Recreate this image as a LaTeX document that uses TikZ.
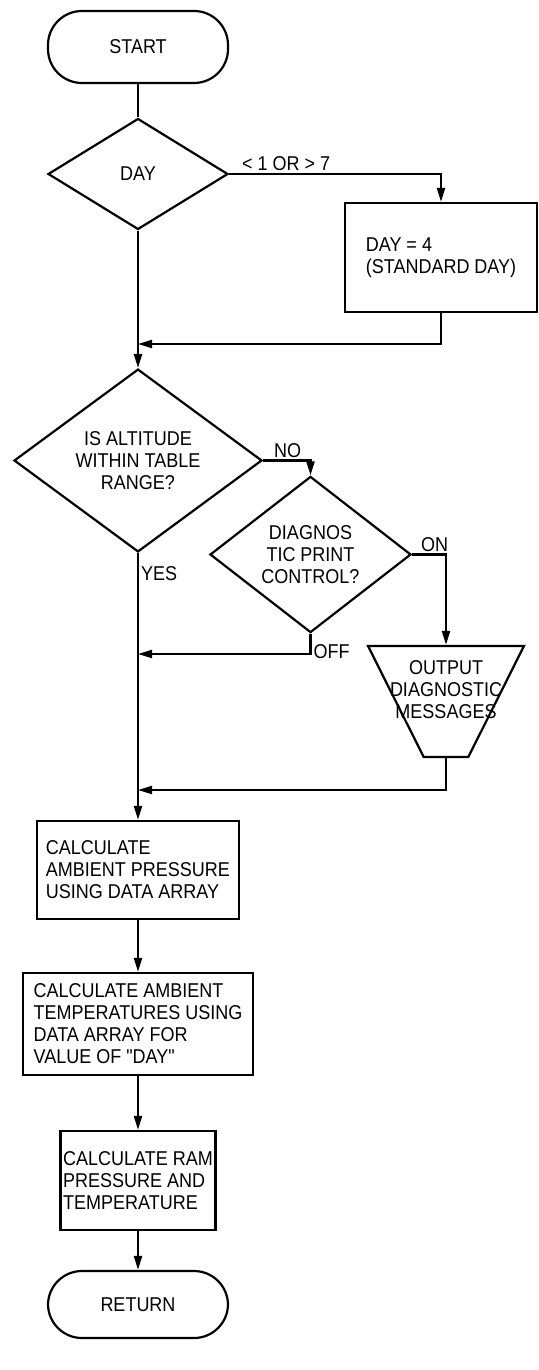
\documentclass[tikz,border=0pt]{standalone}
\usepackage{fontspec}
\setmainfont[FakeStretch=0.9, Ligatures=TeXOff]{Liberation Sans}
\usetikzlibrary{arrows.meta,shapes.geometric}

\begin{document}
\begin{tikzpicture}[
  x=0.5pt, y=-0.5pt,
  >={Triangle[length=7pt,width=4pt]},
  every node/.style={font=\fontsize{10}{11}\selectfont},
  term/.style={rectangle, draw, line width=1.1pt, rounded corners=17pt, minimum width=90pt, minimum height=36pt},
  dec/.style={diamond, draw, line width=1.1pt, inner sep=0pt, align=center},
  proc/.style={rectangle, draw, line width=1.1pt, align=left, inner sep=2pt},
  io/.style={trapezium, draw, line width=1.1pt, trapezium stretches, shape border rotate=180, trapezium left angle=71.6, trapezium right angle=71.6, inner sep=2pt},
  arr/.style={->, line width=1.1pt},
  lbl/.style={inner sep=1pt},
]
\useasboundingbox (0,0) rectangle (539,1370);

\node[term] (start) at (138,47) {START};
\node[dec, minimum width=90pt, minimum height=55.5pt] (day) at (138,174) {DAY};
\node[proc, minimum width=96pt, minimum height=54.5pt] (std) at (441,257.5) {DAY = 4\\(STANDARD DAY)};
\coordinate (j1) at (138,344);
\node[dec, minimum width=124pt, minimum height=70.5pt] (alt) at (138,460.5) {IS ALTITUDE\\WITHIN TABLE\\RANGE?};
\node[dec, minimum width=100.5pt, minimum height=70.5pt] (diag) at (310.5,554.5) {DIAGNOS\\TIC PRINT\\CONTROL?};
\node[io, minimum width=78pt, minimum height=55.5pt,
  label={[align=center, yshift=6pt]center:{OUTPUT\\DIAGNOSTIC\\MESSAGES}}] (msg) at (446,701.5) {\strut};
\coordinate (j2) at (138,654);
\coordinate (j3) at (138,790);
\node[proc, minimum width=101pt, minimum height=49pt] (pres) at (138,870) {CALCULATE\\AMBIENT PRESSURE\\USING DATA ARRAY};
\node[proc, minimum width=115pt, minimum height=51pt] (temp) at (138,1024) {CALCULATE AMBIENT\\TEMPERATURES USING\\DATA ARRAY FOR\\VALUE OF "DAY"};
\node[proc, minimum width=77.5pt, minimum height=49.5pt, inner sep=0pt] (ram) at (138,1180.5) {CALCULATE RAM\\PRESSURE AND\\TEMPERATURE};
\node[term, minimum height=33.5pt] (ret) at (138,1304.5) {RETURN};

\draw[line width=1.1pt] (start) -- (day);
\draw[arr] (day.east) -| node[lbl, pos=0, above right, xshift=5pt] {< 1 OR > 7} (std.north);
\draw[arr] (std.south) |- (j1);
\draw[arr] (day) -- (alt);
\draw[arr] (alt.east) -| node[lbl, pos=0, above right, xshift=4pt] {NO} (diag.north);
\draw[arr] (alt) -- node[lbl, pos=0, below right, yshift=-5pt] {YES} (pres);
\draw[arr] (diag.east) -| node[lbl, pos=0, above right, xshift=3pt] {ON} (msg.north);
\draw[arr] (diag.south) |- node[lbl, pos=0, below right, yshift=-4pt] {OFF} (j2);
\draw[arr] (msg.south) |- (j3);
\draw[arr] (pres) -- (temp);
\draw[arr] (temp) -- (ram);
\draw[arr] (ram) -- (ret);

\end{tikzpicture}
\end{document}
